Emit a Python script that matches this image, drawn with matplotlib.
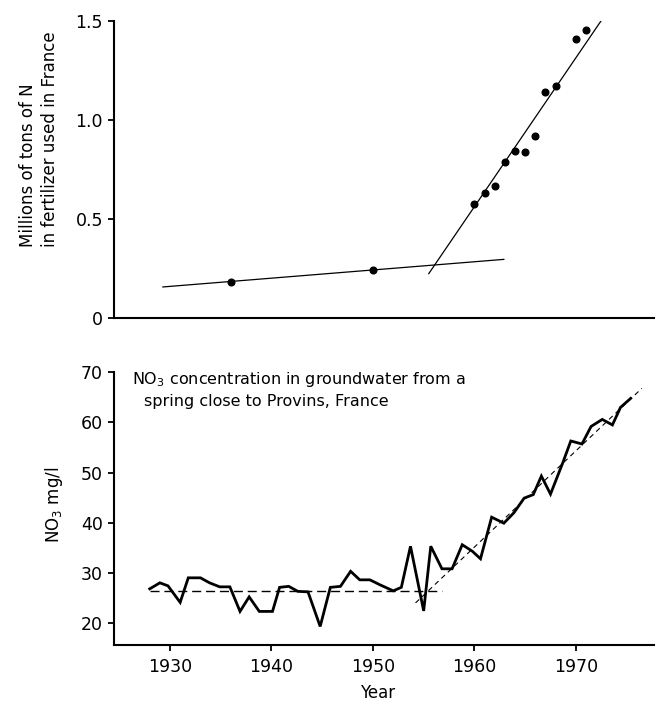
import matplotlib
matplotlib.use("Agg")
import matplotlib.pyplot as plt

# ---------------- data ----------------
fert_years = [1936, 1950, 1960, 1961, 1962, 1963, 1964, 1965, 1966, 1967, 1968, 1970, 1971]
fert_vals = [0.185, 0.245, 0.575, 0.632, 0.665, 0.79, 0.845, 0.84, 0.92, 1.14, 1.17, 1.41, 1.455]

fert_trend_low_years = [1929.3, 1962.9]
fert_trend_low_vals = [0.158, 0.297]
fert_trend_high_years = [1955.5, 1972.6]
fert_trend_high_vals = [0.225, 1.508]

no3_years = [1928.0, 1929.0, 1929.8, 1931.0, 1931.8, 1933.0, 1933.9, 1934.9, 1935.9,
             1936.9, 1937.8, 1938.8, 1940.1, 1940.8, 1941.7, 1942.6, 1943.6, 1944.8,
             1945.8, 1946.8, 1947.8, 1948.7, 1949.7, 1950.7, 1952.0, 1952.8, 1953.7,
             1955.0, 1955.7, 1956.8, 1957.8, 1958.8, 1959.8, 1960.6, 1961.7, 1962.9,
             1963.9, 1964.9, 1965.8, 1966.6, 1967.5, 1968.7, 1969.5, 1970.6, 1971.5,
             1972.6, 1973.6, 1974.4, 1975.4]
no3_vals = [26.8, 28.0, 27.4, 24.1, 29.0, 29.0, 28.0, 27.2, 27.2,
            22.3, 25.2, 22.3, 22.3, 27.1, 27.3, 26.3, 26.2, 19.3,
            27.1, 27.3, 30.3, 28.6, 28.6, 27.6, 26.4, 27.1, 35.3,
            22.4, 35.3, 30.8, 30.8, 35.6, 34.3, 32.8, 41.1, 39.9,
            42.0, 44.9, 45.6, 49.3, 45.7, 51.9, 56.3, 55.7, 59.2,
            60.6, 59.5, 63.0, 64.8]

no3_flat_years = [1928.0, 1956.8]
no3_flat_vals = [26.3, 26.3]
no3_trend_years = [1954.2, 1976.5]
no3_trend_vals = [24.0, 66.8]

x_ticks = [1930, 1940, 1950, 1960, 1970]
top_yticks = [0, 0.5, 1.0, 1.5]
top_yticklabels = ["0", "0.5", "1.0", "1.5"]
bot_yticks = [20, 30, 40, 50, 60, 70]

# ---------------- figure ----------------
W, H = 666, 705
fig = plt.figure(figsize=(W / 100, H / 100), dpi=100)

def px_axes(left, right, top, bottom):
    return [left / W, 1 - bottom / H, (right - left) / W, (bottom - top) / H]

XLIM = (1924.48, 1977.7)

ax1 = fig.add_axes(px_axes(114, 654, 20.7, 318.3))
ax2 = fig.add_axes(px_axes(114, 654, 372.3, 645))

for ax in (ax1, ax2):
    ax.spines["top"].set_visible(False)
    ax.spines["right"].set_visible(False)
    ax.spines["left"].set_linewidth(1.5)
    ax.spines["bottom"].set_linewidth(1.5)
    ax.set_xlim(*XLIM)
    ax.tick_params(axis="both", direction="out", length=4.5, width=1.3,
                   labelsize=12.5, pad=3.5, color="black")

# top panel
ax1.plot(fert_trend_low_years, fert_trend_low_vals, color="black", lw=0.9)
ax1.plot(fert_trend_high_years, fert_trend_high_vals, color="black", lw=0.9)
ax1.plot(fert_years, fert_vals, "o", color="black", ms=4.8, ls="none")
ax1.set_ylim(0, 1.5)
ax1.set_yticks(top_yticks)
ax1.set_yticklabels(top_yticklabels)
ax1.set_xticks([])

# bottom panel
ax2.plot(no3_flat_years, no3_flat_vals, color="black", lw=1.0, dashes=(6.5, 3.5))
ax2.plot(no3_trend_years, no3_trend_vals, color="black", lw=0.8, dashes=(4.5, 3.5))
ax2.plot(no3_years, no3_vals, color="black", lw=2.0, solid_joinstyle="miter")
ax2.set_ylim(15.6, 70)
ax2.set_yticks(bot_yticks)
ax2.set_xticks(x_ticks)
ax2.tick_params(axis="x", pad=5)

# texts
fig.text(39 / W, 1 - 247 / H, "Millions of tons of N\nin fertilizer used in France",
         rotation=90, ha="center", va="bottom", multialignment="left",
         fontsize=12, linespacing=1.25)
fig.text(54 / W, 1 - 505 / H, "NO$_3$ mg/l", rotation=90, ha="center", va="center",
         fontsize=12)
fig.text(378 / W, 1 - 693 / H, "Year", ha="center", va="center", fontsize=12)
fig.text(131.5 / W, 1 - 384 / H, "NO$_3$ concentration in groundwater from a",
         ha="left", va="baseline", fontsize=11.5)
fig.text(144.3 / W, 1 - 406 / H, "spring close to Provins, France",
         ha="left", va="baseline", fontsize=11.5)

fig.savefig("out.png", dpi=100)
